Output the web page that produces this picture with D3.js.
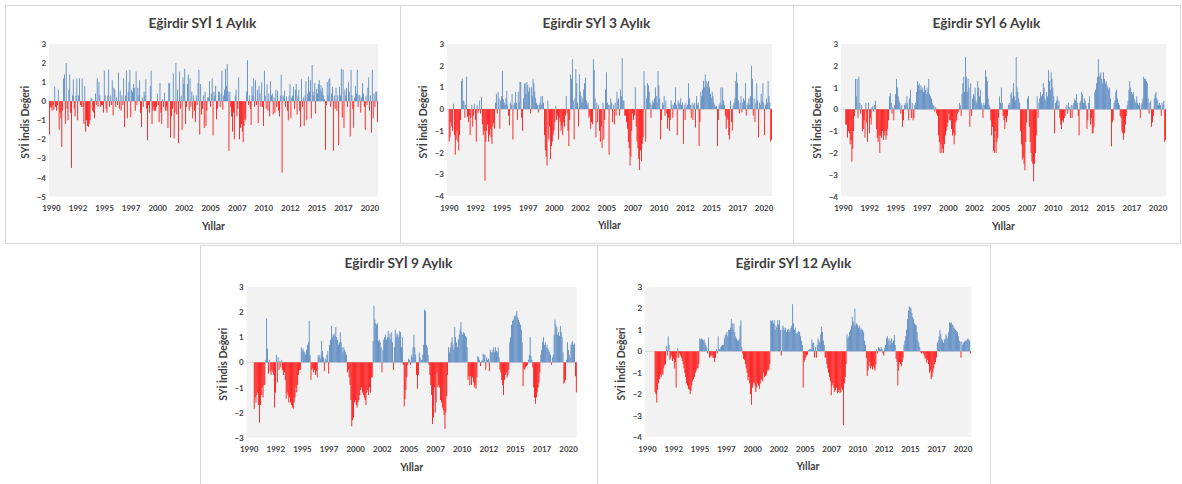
<!DOCTYPE html>
<html><head><meta charset="utf-8">
<script src="https://cdn.jsdelivr.net/npm/d3@7"></script>
<style>body{margin:0;background:#fff}svg{display:block}</style>
</head><body>
<svg id="c" width="1182" height="484"></svg>
<script>
// ---------- DATA ----------
const titles = ["Eğirdir SYİ 1 Aylık","Eğirdir SYİ 3 Aylık","Eğirdir SYİ 6 Aylık","Eğirdir SYİ 9 Aylık","Eğirdir SYİ 12 Aylık"];
const yAxisTitle = "SYİ İndis Değeri";
const xAxisTitle = "Yıllar";
const yearLabels = ["1990","1992","1995","1997","2000","2002","2005","2007","2010","2012","2015","2017","2020"];
const yearLabelMonth = [0,30,60,90,120,150,180,210,240,270,300,330,360];
const ticks1 = [3,2,1,0,-1,-2,-3,-4,-5];
const ticks3 = [3,2,1,0,-1,-2,-3,-4];
const ticks6 = [3,2,1,0,-1,-2,-3,-4];
const ticks9 = [3,2,1,0,-1,-2,-3];
const ticks12 = [3,2,1,0,-1,-2,-3,-4];

// monthly SPI values, Jan 1990 .. Dec 2020 (one row per year)
const spi1 = [
-1.75,-0.3,-0.35,-0.5,-0.2,-0.45,0.77,-0.3,-0.5,-0.2,0.6,-1.5,
-0.6,-0.9,-2.4,-0.5,1.2,1.4,-1.2,2.0,-0.4,-1.0,0.6,1.4,
-0.6,-3.5,0.3,1.15,-0.4,-0.8,0.3,1.2,-1.0,0.3,1.2,-0.2,
-0.3,1.2,-0.3,-1.2,0.8,-1.6,-1.0,-1.3,-1.35,-1.2,-1.0,0.15,
0.15,-0.5,-0.6,-0.9,0.4,-0.2,1.2,-0.3,1.0,0.3,-0.3,-0.2,
-0.2,-0.6,1.6,0.3,-0.4,-0.6,0.3,1.65,-0.3,0.3,-0.2,1.1,
-0.75,0.7,0.6,-0.3,0.2,-0.2,1.5,-0.4,0.55,-0.5,0.3,-0.2,
1.2,-1.35,0.3,1.6,-0.9,0.5,1.0,1.65,-0.85,0.6,0.5,0.9,
0.7,-0.5,1.55,-0.2,0.7,0.3,1.1,-0.6,-1.35,0.2,-0.3,0.5,
0.3,1.15,-0.4,-2.05,-0.2,-0.6,0.8,1.6,-1.2,-0.5,-0.3,-0.5,
-0.5,-0.3,0.4,-0.2,-1.1,0.95,-0.6,-1.2,0.1,-0.3,0.45,-0.5,
-0.3,-0.5,-1.4,0.95,0.95,-1.9,-0.8,-0.4,1.45,-1.95,-0.6,2.0,
-0.7,0.6,-2.2,1.55,-0.4,0.3,-1.5,1.25,0.9,1.7,-1.2,-0.3,
0.9,1.4,-0.5,1.2,-0.3,0.5,-0.9,0.3,-0.5,-1.1,0.3,-0.2,
0.95,1.65,-1.75,0.9,-0.7,-0.4,0.3,-1.4,0.5,-1.3,-0.5,0.2,
0.2,1.05,-0.3,0.4,1.2,-1.8,0.5,0.3,0.8,-0.95,-0.4,0.5,
0.5,-0.3,0.4,1.6,-0.45,0.3,0.6,1.7,0.8,1.95,0.5,-2.6,
0.5,-0.3,-0.8,-1.6,-0.6,-2.0,0.3,0.6,-0.8,-0.4,1.25,-2.0,
-1.4,-1.2,-1.6,-2.15,-1.3,-0.9,-1.0,0.5,2.15,-0.2,0.3,-0.4,
-1.25,0.8,0.3,1.2,-0.3,1.1,-0.2,0.6,-1.15,0.8,0.4,-0.3,
1.0,-0.3,-1.3,1.6,0.3,-0.4,0.9,-0.5,0.4,-0.8,1.05,0.3,
0.4,-0.7,0.2,-0.6,0.6,-0.3,0.55,-0.5,-0.8,0.3,1.4,-3.75,
0.3,0.25,0.55,-0.3,0.25,-0.5,-1.0,0.3,0.9,-0.9,0.2,0.3,
0.75,-0.4,0.6,0.9,-0.7,0.3,0.6,-0.5,-1.35,1.15,-0.3,0.2,
-1.3,0.3,1.05,-1.0,0.4,1.3,0.5,1.1,-0.9,1.9,0.5,0.3,
0.95,-0.65,0.65,0.4,0.9,1.1,0.6,0.85,0.5,0.7,0.3,0.1,
-2.55,-0.2,1.0,0.3,1.15,1.2,-0.3,0.4,0.75,-2.6,0.3,-0.4,
0.7,-0.5,0.3,-2.3,0.75,0.3,1.7,-0.85,1.65,-1.4,0.6,0.3,
0.7,-0.3,1.0,0.5,-1.85,1.65,0.3,-0.4,-1.4,0.2,0.8,0.4,
1.65,-0.3,0.35,0.3,-0.6,0.2,0.95,0.4,-0.3,-1.5,0.3,-0.2,
0.7,1.25,-0.5,0.3,-1.65,1.65,-0.9,0.4,-0.3,0.5,0.5,-1.1
];
const spi3 = [
null,null,-1.5,-1.3,-0.6,-0.8,-1.0,0.25,-1.2,-2.1,-1.4,-1.0,
-1.5,-1.9,-1.2,-0.5,1.3,1.4,0.4,0.35,-0.4,0.2,1.5,-0.35,
-0.6,-0.3,-1.2,-0.4,0.2,-0.8,-0.3,0.25,-0.5,-1.5,0.2,-0.2,
-0.1,0.4,-0.2,0.55,-0.7,-1.2,-1.0,-3.3,-1.5,-1.0,-0.7,-1.5,
-1.2,-0.9,-1.3,-1.6,-0.8,-0.65,-0.9,0.3,0.7,-0.2,0.8,0.5,
-0.9,0.4,0.6,1.75,0.45,0.3,0.2,0.5,0.85,0.2,-0.3,-0.75,
0.3,0.2,0.7,-1.4,0.2,0.3,0.8,0.3,-0.5,0.8,0.3,1.25,
1.25,-0.4,-1.0,0.5,1.15,1.2,0.7,1.25,1.1,0.8,1.0,-0.2,
1.0,0.6,1.4,1.2,0.8,0.5,0.3,0.2,-0.15,0.2,0.3,0.6,
0.2,0.6,0.3,-1.2,-1.9,-2.2,-2.6,0.4,-1.4,-0.8,-2.3,-1.7,
-1.5,-1.2,-1.0,-0.6,0.15,-0.5,-0.3,-1.4,-0.4,-0.6,-1.0,-0.8,
-1.2,-0.6,-0.8,-0.3,0.6,-0.2,-1.0,-1.7,-0.5,1.6,1.4,2.3,
0.4,-1.4,0.5,1.85,1.2,0.3,-0.8,1.6,0.8,0.6,0.3,0.5,
0.9,1.2,1.45,0.4,0.2,0.3,-0.4,-0.3,-0.9,-0.6,-0.7,2.3,
1.8,0.5,-1.3,0.3,-0.6,0.2,-1.0,-1.5,-0.8,-1.8,0.3,-1.4,
-0.5,0.9,1.7,0.3,0.2,-2.1,0.2,0.5,0.3,-0.6,0.2,-0.7,
0.3,-0.3,0.8,0.4,0.5,-0.3,0.9,0.6,2.35,0.4,0.4,-0.3,
-0.3,-0.6,-0.9,-1.5,-1.8,-2.6,-2.2,-1.0,-0.2,-0.5,-0.3,1.0,
-0.8,-1.5,-1.8,-2.3,-2.8,-1.9,-2.4,-1.6,-1.3,1.75,1.1,-1.5,
0.5,1.2,1.1,0.8,0.3,-0.4,0.2,0.4,0.3,0.5,1.0,0.6,
0.3,1.75,1.1,0.5,-1.4,-0.5,0.3,0.2,0.6,-0.3,0.4,-0.2,
-0.9,-0.4,-1.0,-0.5,0.4,0.2,-0.4,0.2,0.3,1.0,0.2,-1.2,
0.4,0.3,0.25,0.5,0.2,0.3,-1.6,0.2,-0.5,0.3,0.1,0.2,
1.2,0.5,0.2,-0.4,0.3,-0.5,0.2,0.3,-0.85,0.6,0.2,0.3,
-1.7,-0.6,0.8,0.6,0.9,1.3,1.0,1.6,1.3,1.0,1.2,1.3,
1.0,0.7,0.5,0.8,0.6,0.3,0.2,0.1,0.15,-1.7,-0.5,0.2,
0.3,1.0,0.2,1.0,0.4,0.2,-0.3,-0.9,-0.4,-0.5,-1.2,-1.4,
0.4,-0.6,-1.0,0.2,0.3,0.5,1.3,1.7,1.2,0.4,-0.2,0.3,
0.6,-0.15,0.3,0.5,0.4,1.2,-0.3,0.2,0.3,0.5,0.2,0.6,
2.0,1.4,-0.3,0.5,-0.6,0.3,1.2,0.4,-1.3,0.3,0.2,0.7,
0.4,1.2,0.3,-1.2,0.2,0.5,0.3,1.3,0.6,0.3,-1.5,-1.4
];
const spi6 = [
null,null,null,null,null,-0.7,-0.7,-1.3,-1.0,-1.1,-1.6,-1.4,
-2.4,-1.8,-1.0,-0.3,1.4,0.6,1.4,-0.4,1.5,0.3,-0.2,0.2,
-1.0,-0.9,-0.5,-1.3,0.3,-0.6,-1.5,0.3,-1.1,-0.4,-0.7,0.1,
0.15,-0.1,0.2,0.4,-0.9,-1.3,-1.5,-1.2,-2.0,-1.2,-1.3,-1.0,
-1.4,-1.2,-1.0,-1.4,-1.2,-0.9,-0.5,0.6,0.75,0.3,-0.2,0.1,
-0.5,0.2,0.7,1.4,1.0,0.6,0.4,0.3,-0.2,0.2,-0.8,-0.5,
0.2,0.3,0.2,0.6,0.3,-0.5,0.5,0.9,-0.4,0.3,-0.5,-0.4,
0.2,0.3,0.8,1.3,1.1,1.2,0.9,1.1,0.9,1.0,0.8,1.1,
0.9,0.7,1.0,0.8,1.4,0.7,0.6,0.5,0.3,0.2,0.15,-0.1,
0.1,-0.2,-0.3,-1.2,-1.5,-2.0,-1.6,-2.0,-1.8,-2.0,-1.6,-1.2,
-1.0,-0.8,-0.6,-0.2,-0.5,-0.5,-0.9,-1.2,-1.1,-1.6,-1.2,-0.6,
-0.5,-0.2,-0.1,0.3,0.2,-0.3,0.7,1.2,1.5,0.8,2.4,1.5,
0.8,1.4,1.0,-0.8,1.2,-0.3,0.5,0.7,0.6,1.0,0.4,0.3,
1.3,1.0,0.6,0.9,0.3,0.2,-0.4,0.3,0.2,1.8,1.5,1.3,
0.5,0.2,0.1,-0.5,-1.2,-0.8,-1.9,-2.0,-1.0,-2.0,-1.5,-1.3,
-0.4,0.6,0.3,1.0,0.3,-0.3,-0.5,-0.9,-0.4,-0.6,-0.3,0.2,
0.3,0.2,0.7,0.8,0.5,1.2,0.6,0.4,2.4,1.0,0.8,0.5,
0.3,-1.0,-1.6,-2.3,-2.2,-2.5,-2.8,-1.5,-0.6,0.5,0.6,-0.8,
-1.5,-2.0,-2.4,-2.5,-3.3,-2.5,-2.0,-1.2,0.6,-0.4,0.3,0.5,
0.8,0.6,0.7,1.2,1.0,0.5,0.4,0.8,0.6,1.8,1.3,0.9,
1.7,1.4,1.0,0.6,-1.1,0.3,0.4,0.6,0.2,0.4,-0.4,-0.7,
-0.9,-0.5,-0.6,-0.4,-0.3,0.1,0.2,-0.2,0.3,0.1,-0.4,0.2,
-0.4,0.2,0.3,0.5,0.4,0.7,0.3,-0.3,-1.2,0.3,0.4,0.8,
0.7,0.3,0.5,0.4,0.2,-0.9,-0.5,0.3,0.6,-0.7,-0.4,-1.1,
-1.1,-0.8,0.8,0.9,1.2,1.5,2.3,1.5,1.6,1.7,1.4,1.2,
1.7,1.4,1.2,1.3,1.1,1.0,0.9,1.0,0.5,-1.7,-0.6,-0.5,
0.3,0.4,0.8,0.9,0.5,0.3,0.2,-0.3,-0.4,-1.0,-1.1,-1.4,
-1.1,-0.7,-0.3,0.2,0.4,0.9,1.3,1.0,0.8,0.7,0.8,0.5,
0.4,0.3,0.6,0.3,0.2,0.3,-0.4,0.2,0.3,0.5,1.5,1.4,
1.4,1.3,1.2,0.5,-0.2,0.3,0.4,-0.8,-0.6,-0.3,0.5,0.7,
0.8,0.5,0.4,0.2,0.3,0.2,-0.3,0.3,0.2,0.4,-1.5,-1.4
];
const spi9 = [
null,null,null,null,null,null,null,null,-1.85,-1.4,-1.6,-1.3,
-1.2,-1.7,-2.4,-1.7,-1.3,-1.0,-1.4,-0.9,-0.9,0.1,1.75,0.55,
-0.45,0.1,-0.35,-0.5,-0.3,-0.4,-0.5,-1.8,-1.2,0.3,-0.8,0.2,
-0.3,0.05,-0.2,0.1,-0.3,-0.5,-0.4,-0.7,-1.45,-1.2,-1.3,-1.6,
-1.4,-1.6,-1.7,-1.8,-1.85,-1.6,-1.4,-1.0,-1.2,-0.9,-0.5,-0.3,
-0.3,0.6,0.5,0.55,0.45,0.4,0.3,0.5,0.7,0.8,1.65,0.3,
-0.7,-0.3,-0.25,-0.4,-0.3,-0.5,-0.35,-0.6,0.3,0.2,0.3,0.15,
0.85,0.45,0.2,-0.35,0.15,0.1,0.3,0.45,-0.45,0.7,0.9,1.45,
1.0,1.1,1.15,1.05,1.4,1.0,0.9,0.7,0.8,1.2,0.8,0.6,
0.4,0.6,0.5,0.4,0.3,-0.4,-0.3,-0.6,-0.9,-1.5,-2.55,-2.3,
-2.2,-1.6,-1.5,-1.7,-1.8,-1.6,-1.5,-1.3,-1.1,-1.0,-1.2,-1.3,
-1.4,-1.5,-1.7,-1.2,-1.1,-1.3,-1.0,-1.2,-0.6,-0.6,0.85,2.25,
1.7,1.55,1.5,1.55,0.85,0.9,0.8,0.6,-0.4,0.5,0.9,1.0,
1.1,0.9,1.0,1.25,1.0,1.15,0.9,1.2,0.8,-0.3,0.6,1.3,
1.0,1.15,1.1,1.0,1.25,1.2,0.6,1.0,-0.1,-1.75,-1.45,-1.1,
-0.6,-0.1,0.15,0.1,-0.1,0.3,0.2,0.6,1.1,0.6,0.3,-0.5,
-1.05,-0.5,0.4,0.2,0.1,0.1,0.3,0.7,2.1,2.05,0.7,0.6,
0.3,-0.1,-0.5,-0.9,-1.3,-2.45,-2.2,-1.0,-2.0,-1.6,-0.4,-1.0,
-0.9,-1.0,-1.5,-1.6,-1.8,-1.9,-2.1,-2.65,-2.0,-1.35,-0.5,0.6,
0.4,0.6,0.8,1.0,0.7,0.5,1.4,1.0,0.8,0.6,0.9,1.1,
1.3,1.6,1.2,1.1,1.2,1.15,1.05,1.0,0.6,-0.7,-0.55,-0.9,
-0.55,-0.9,-0.6,-0.8,-1.0,-0.9,-1.05,-0.6,0.25,0.2,0.1,-0.15,
0.05,0.1,0.35,0.3,0.3,-0.3,0.2,0.1,0.15,-0.35,0.5,0.4,
0.4,0.5,0.6,0.4,0.6,0.45,0.4,0.6,0.2,-0.3,-0.4,-0.7,
-0.9,-1.3,-0.7,-0.5,-0.4,-0.6,-0.5,-0.3,0.8,1.0,1.5,1.65,
1.7,1.85,1.8,1.9,2.05,1.8,1.7,1.6,1.5,1.3,0.8,-0.95,
-0.25,-0.3,-0.2,-0.15,-0.1,0.1,0.3,1.0,0.25,0.1,-0.2,-1.0,
-1.4,-1.65,-1.4,-1.2,-1.0,-0.8,-0.4,0.3,0.5,0.8,1.0,0.7,
0.8,0.6,0.7,0.55,0.5,0.4,0.3,-0.1,0.2,0.3,1.1,1.7,
1.5,1.4,1.1,1.2,1.05,1.45,1.2,1.0,0.4,-0.85,-0.8,-0.7,
0.1,0.8,0.5,0.3,0.2,0.7,0.8,0.85,0.7,0.75,-0.55,-1.2
];
const spi12 = [
null,null,null,null,null,null,null,null,null,null,null,-1.9,
-2.0,-2.4,-1.8,-1.5,-1.3,-1.1,-1.2,-1.05,-1.1,-0.8,-0.65,-0.6,
0.25,-0.2,0.7,0.3,-0.4,-0.3,-0.2,-0.45,-0.35,-0.8,-0.5,-1.7,
-0.3,0.15,-0.3,-0.1,-0.2,-0.3,-0.45,-0.6,-0.8,-1.0,-1.2,-1.5,
-1.6,-1.75,-1.8,-2.0,-1.85,-1.6,-1.4,-1.3,-1.2,-1.0,-0.9,-0.8,
-0.8,-0.6,0.6,0.55,0.6,0.55,0.5,0.55,0.4,0.3,0.2,-0.1,
0.65,-0.3,-0.25,-0.2,-0.2,-0.3,-0.3,-0.5,-0.3,0.1,-0.1,0.7,
0.1,0.1,0.2,0.25,0.3,0.3,0.6,0.75,0.8,0.9,0.7,1.0,
1.0,1.1,1.5,1.3,1.0,1.3,0.9,0.7,0.6,0.5,0.5,0.6,
1.2,1.45,0.2,-0.1,-0.35,-0.4,-0.6,-0.8,-1.0,-1.35,-1.2,-1.5,
-2.0,-2.5,-1.7,-1.5,-1.45,-1.6,-1.9,-1.7,-1.5,-1.6,-1.75,-1.5,
-1.3,-1.35,-1.4,-1.0,-1.2,-1.15,-1.1,-0.9,-0.9,-0.85,-0.6,1.45,
1.4,1.45,1.3,1.45,1.0,1.2,1.1,1.45,1.25,1.45,1.0,-0.2,
1.0,1.2,1.1,1.0,1.1,0.9,1.0,1.05,0.9,1.0,1.1,1.2,
2.2,1.3,1.0,1.1,0.85,0.8,0.9,0.95,0.9,0.7,0.5,0.3,
-1.7,-0.5,-0.4,-0.3,-0.2,-0.15,0.05,0.1,0.1,0.1,0.55,0.4,
0.4,-0.3,0.2,-0.3,0.3,0.6,0.5,0.4,0.8,1.15,0.9,0.5,
0.3,-0.3,-0.3,-0.6,-0.8,-1.0,-1.2,-1.4,-2.05,-1.6,-1.5,-1.7,
-1.9,-1.8,-1.7,-1.95,-1.9,-1.8,-1.95,-1.9,-1.7,-1.8,-3.45,-1.5,
-1.2,-0.6,0.8,0.6,0.7,0.9,1.0,1.2,1.6,1.4,1.3,2.0,
1.2,1.3,1.25,1.1,1.2,1.0,1.1,1.0,1.0,0.9,0.5,0.3,
-0.3,-1.15,-0.9,-0.7,-0.5,-0.8,-0.7,-0.85,-0.7,-0.8,-0.9,-0.6,
0.1,-0.1,0.2,0.15,0.1,0.2,0.1,-0.1,-0.2,0.15,0.3,0.6,
0.7,0.5,0.6,0.3,0.5,0.6,0.4,0.5,0.75,0.3,-0.35,-0.5,
-1.6,-0.9,-0.5,-0.6,-0.7,-0.5,-0.3,0.3,0.5,0.7,1.0,1.5,
1.9,2.1,2.05,2.0,1.8,1.6,1.5,1.3,1.25,1.2,0.9,0.5,
0.4,0.2,-0.05,-0.1,-0.05,-0.1,-0.2,-0.35,-0.3,-0.55,-0.4,-0.6,
-1.0,-0.9,-1.3,-1.2,-1.0,-0.8,-0.6,-0.5,-0.3,0.4,0.5,0.7,
1.0,0.8,0.6,0.5,0.4,0.55,0.6,0.8,0.7,0.6,0.9,1.35,
1.3,1.35,1.25,1.2,1.1,1.05,1.0,0.95,0.9,0.7,0.5,0.45,
-0.3,0.45,0.3,0.4,0.45,0.5,0.5,0.55,0.6,0.55,0.5,-0.1
];

// ---------- LAYOUT ----------
const FONT = "Lato, 'Open Sans', 'DejaVu Sans', sans-serif";
const panels = [
  {title:titles[0], data:spi1,  ticks:ticks1,  box:[5,5,395,238],   plot:[49,44,378,196.5]},
  {title:titles[1], data:spi3,  ticks:ticks3,  box:[400,5,393,238], plot:[447,44,772,196]},
  {title:titles[2], data:spi6,  ticks:ticks6,  box:[793,5,387,238], plot:[841,44,1166,196.5]},
  {title:titles[3], data:spi9,  ticks:ticks9,  box:[200,245,397,240], plot:[246.7,287,576.7,437.7]},
  {title:titles[4], data:spi12, ticks:ticks12, box:[597,245,393,240], plot:[645,287,971,437]}
];

const svg = d3.select("#c");

// helper to find a font-size giving a target width
function fitSize(text, weight, target) {
  const t = svg.append("text").attr("font-family", FONT).attr("font-weight", weight)
    .attr("font-size", 20).text(text);
  const w = t.node().getComputedTextLength();
  t.remove();
  return 20 * target / w;
}
const titleSize = fitSize(titles[0], "bold", 108);
const tickSize = fitSize("1990", "bold", 18.5);
const yTitleSize = fitSize(yAxisTitle, "bold", 73);
const xTitleSize = fitSize(xAxisTitle, "bold", 23);

const months = d3.range(372);

panels.forEach(p => {
  const [bx, by, bw, bh] = p.box;
  const [pl, pt, pr, pb] = p.plot;
  const g = svg.append("g");

  g.append("rect").attr("x", bx + 0.5).attr("y", by + 0.5).attr("width", bw).attr("height", bh)
    .attr("fill", "#fff").attr("stroke", "#d9d9d9").attr("stroke-width", 1);

  g.append("rect").attr("x", pl).attr("y", pt).attr("width", pr - pl).attr("height", pb - pt)
    .attr("fill", "#f2f2f2");

  const x = d3.scaleBand().domain(months).range([pl, pr]).paddingInner(0.08).paddingOuter(0);
  const y = d3.scaleLinear().domain(d3.extent(p.ticks)).range([pb, pt]);

  // zero line
  g.append("line").attr("x1", pl).attr("x2", pr).attr("y1", y(0)).attr("y2", y(0))
    .attr("stroke", "#d9d9d9").attr("stroke-width", 1);

  const vals = months.map(i => ({i, v: p.data[i]})).filter(d => d.v !== null && d.v !== undefined);
  g.append("g").selectAll("rect").data(vals).join("rect")
    .attr("x", d => x(d.i))
    .attr("width", x.bandwidth())
    .attr("y", d => y(Math.max(0, d.v)))
    .attr("height", d => Math.abs(y(d.v) - y(0)))
    .attr("fill", d => d.v >= 0 ? "#4f81bd" : "#ff0000");

  // y axis
  const ya = g.append("g").attr("transform", `translate(${pl - 3},0)`)
    .call(d3.axisLeft(y).tickValues(p.ticks).tickSize(0).tickPadding(0).tickFormat(d3.format("d")));
  ya.select(".domain").remove();
  ya.selectAll("text").attr("font-family", FONT).attr("font-weight", "bold")
    .attr("font-size", tickSize).attr("fill", "#404040");

  // x axis
  const xa = g.append("g").attr("transform", `translate(2,${pb})`)
    .call(d3.axisBottom(x).tickValues(yearLabelMonth).tickSize(0).tickPadding(9)
      .tickFormat(d => yearLabels[yearLabelMonth.indexOf(d)]));
  xa.select(".domain").remove();
  xa.selectAll("text").attr("font-family", FONT).attr("font-weight", "bold")
    .attr("font-size", tickSize).attr("fill", "#404040");

  // title
  g.append("text").attr("x", bx + bw / 2).attr("y", by + 23)
    .attr("text-anchor", "middle").attr("font-family", FONT).attr("font-weight", "bold")
    .attr("font-size", titleSize).attr("fill", "#404040").text(p.title);

  // axis titles
  g.append("text").attr("transform", `translate(${pl - 20},${(pt + pb) / 2 + 2}) rotate(-90)`)
    .attr("text-anchor", "middle").attr("font-family", FONT).attr("font-weight", "bold")
    .attr("font-size", yTitleSize).attr("fill", "#404040").text(yAxisTitle);

  g.append("text").attr("x", (pl + pr) / 2).attr("y", pb + 33)
    .attr("text-anchor", "middle").attr("font-family", FONT).attr("font-weight", "bold")
    .attr("font-size", xTitleSize).attr("fill", "#404040").text(xAxisTitle);
});
</script>
</body></html>
